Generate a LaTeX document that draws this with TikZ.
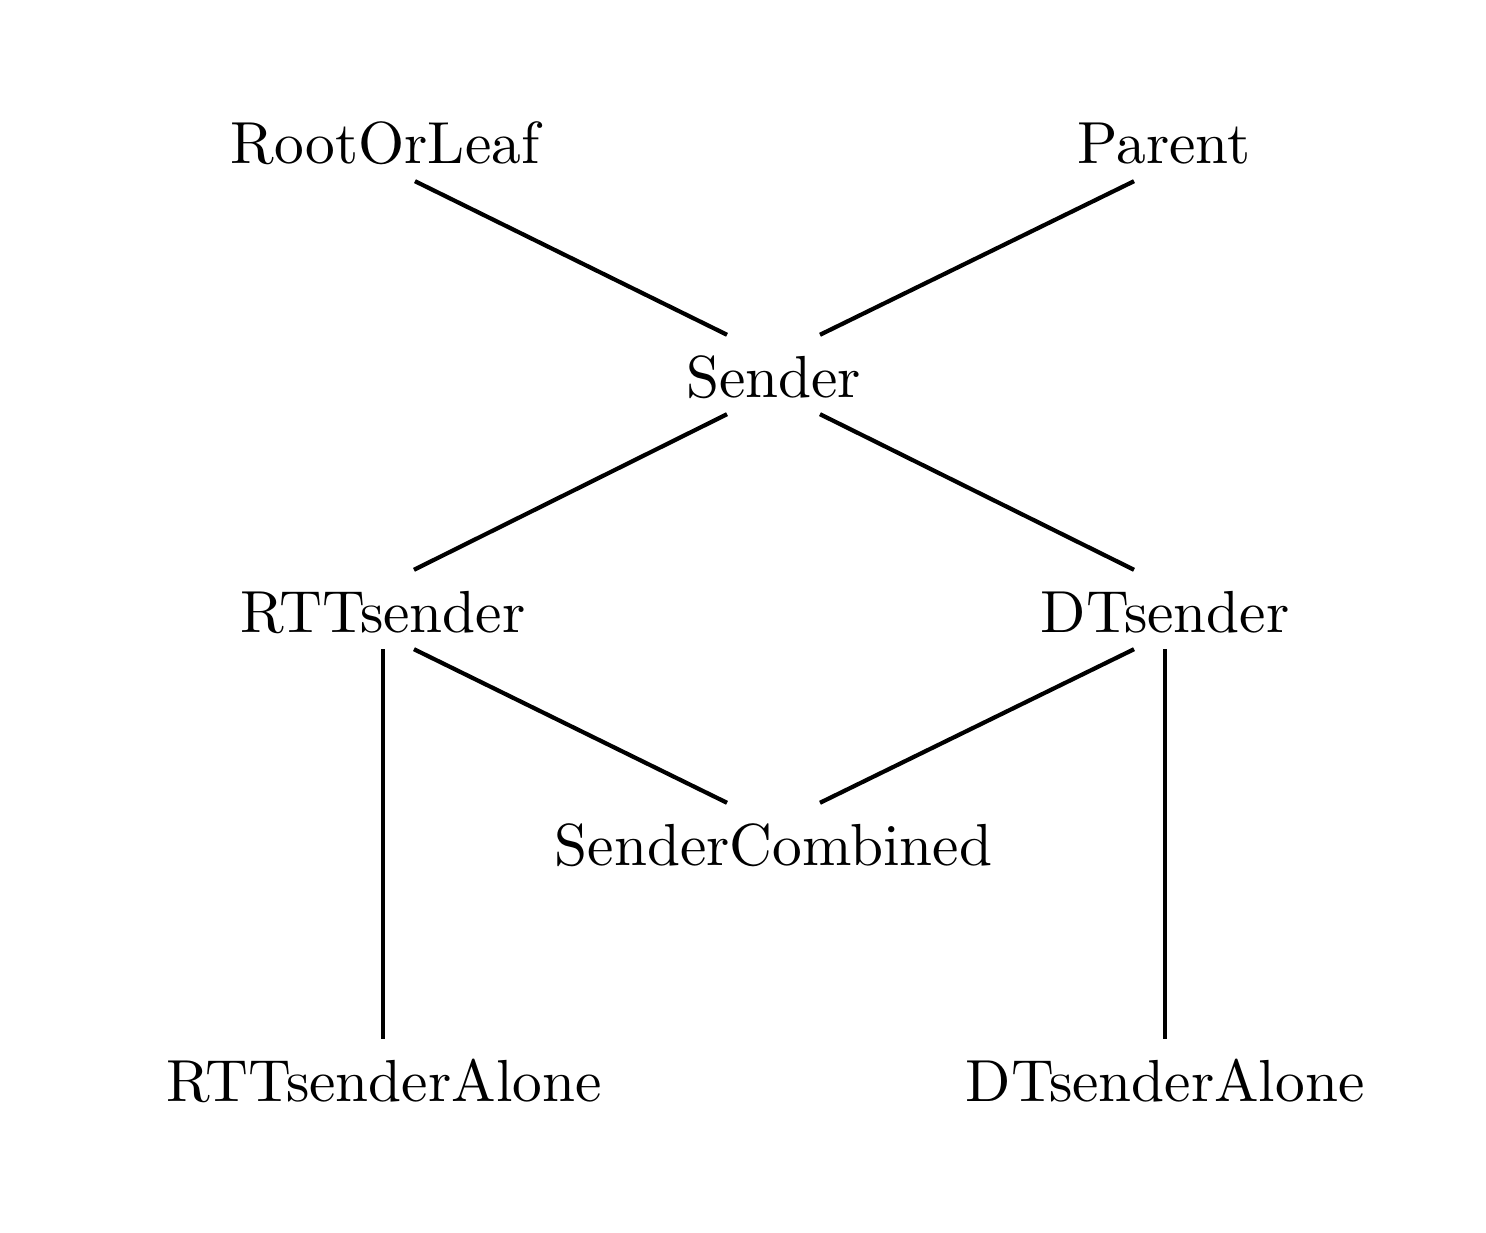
\documentclass[tikz,border=0pt]{standalone}
\begin{document}
\begin{tikzpicture}[x=0.171pt,y=-0.171pt,
  lbl/.style={anchor=base,inner sep=2.74pt,text height=7.7pt,text depth=0pt,font=\fontsize{10.15pt}{12pt}\selectfont},
  edge/.style={line width=0.72pt,black},
  vedge/.style={line width=0.8pt,black}]
\useasboundingbox (0,0) rectangle (1486,1232);
\node[lbl] (rol) at (385,164) {RootOrLeaf};
\node[lbl] (par) at (1164,164) {Parent};
\node[lbl] (snd) at (773.5,397) {Sender};
\node[lbl] (rtt) at (383,632) {RTTsender};
\node[lbl] (dt) at (1165,632) {DTsender};
\node[lbl] (sc) at (773.5,865) {SenderCombined};
\node[lbl] (rtta) at (384,1101) {RTTsenderAlone};
\node[lbl] (dta) at (1165,1101) {DTsenderAlone};
\draw[edge] ([xshift=5.13pt]rol.south) -- ([xshift=-7.95pt]snd.north);
\draw[edge] ([xshift=-5.13pt]par.south) -- ([xshift=7.95pt]snd.north);
\draw[edge] ([xshift=-7.95pt]snd.south) -- ([xshift=5.3pt]rtt.north);
\draw[edge] ([xshift=7.95pt]snd.south) -- ([xshift=-5.3pt]dt.north);
\draw[edge] ([xshift=5.3pt]rtt.south) -- ([xshift=-7.95pt]sc.north);
\draw[edge] ([xshift=-5.3pt]dt.south) -- ([xshift=7.95pt]sc.north);
\draw[vedge] (rtt.south) -- (rtt.south |- rtta.north);
\draw[vedge] (dt.south) -- (dta.north);
\end{tikzpicture}
\end{document}
